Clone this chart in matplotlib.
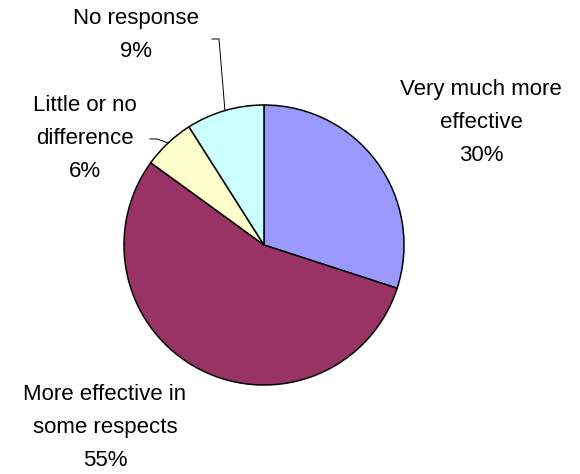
import numpy as np
import matplotlib
matplotlib.use("Agg")
import matplotlib.pyplot as plt

# survey answers, clockwise from 12 o'clock
labels = ["Very much more\neffective", "More effective in\nsome respects",
          "Little or no\ndifference", "No response"]
values = [30, 55, 6, 9]
colors = ["#9999FF", "#993366", "#FFFFCC", "#CCFFFF"]

W, H = 580, 474
fig = plt.figure(figsize=(W / 100, H / 100), dpi=100)
ax = fig.add_axes([0, 0, 1, 1])
ax.set_xlim(0, W)
ax.set_ylim(0, H)
ax.set_aspect("equal")
ax.axis("off")

cx, cy, r = 264, H - 245, 140
wedges, _ = ax.pie(values, colors=colors, startangle=90, counterclock=False,
                   center=(cx, cy), radius=r,
                   wedgeprops=dict(edgecolor="black", linewidth=1.1))
ax.set_xlim(0, W)
ax.set_ylim(0, H)

font = dict(family=["Liberation Sans", "DejaVu Sans"], fontsize=16,
            ha="center", va="center", linespacing=1.75)

# label positions (pixel coords from top-left)
label_pos = [(481, 122), (105, 427), (85, 138), (136, 35)]
for lab, v, (x, y) in zip(labels, values, label_pos):
    ax.text(x, H - y, f"{lab}\n{v}%", **font)

# leader lines for the two small slices
def mid_point(w):
    a = np.deg2rad((w.theta1 + w.theta2) / 2)
    return cx + r * np.cos(a), cy + r * np.sin(a)

px, py = mid_point(wedges[3])
ax.plot([px, 219, 212], [py, H - 39, H - 39], color="black", lw=0.7)
px, py = mid_point(wedges[2])
ax.plot([px, 157, 150], [py, H - 139, H - 139], color="black", lw=0.7)

fig.savefig("out.png", dpi=100, facecolor="white")
